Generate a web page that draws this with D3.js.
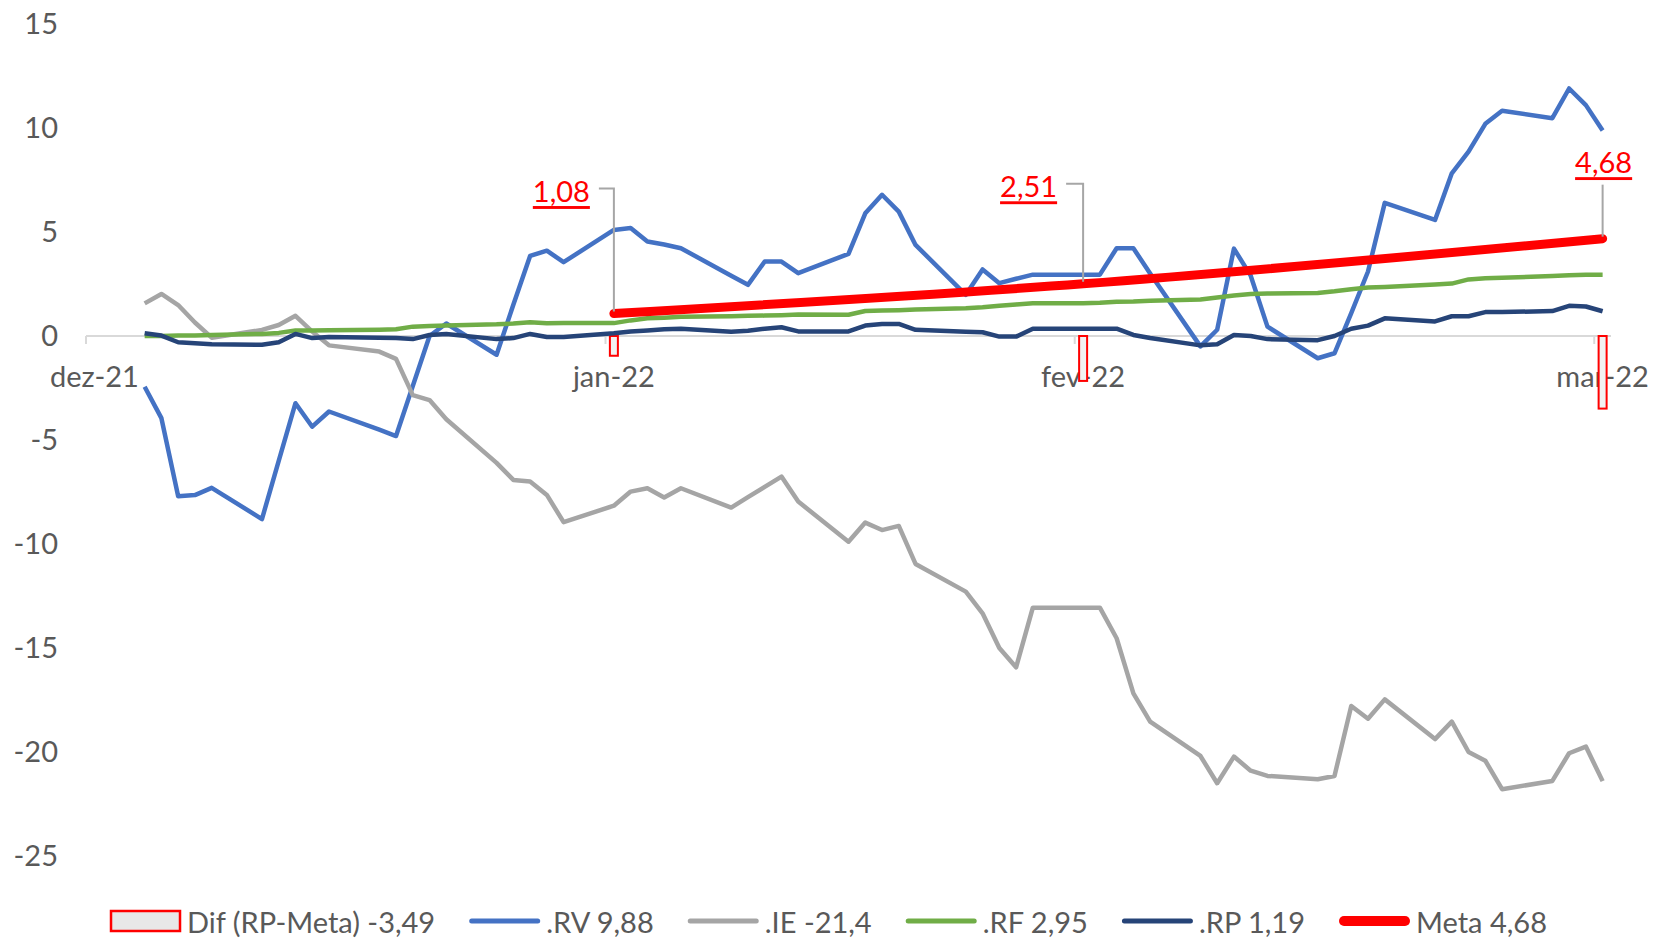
<!DOCTYPE html>
<html>
<head>
<meta charset="utf-8">
<script src="https://cdn.jsdelivr.net/npm/d3@7"></script>
<style>
  body { margin: 0; background: #fff; }
  svg text { font-family: Lato, "Open Sans", sans-serif; fill: #595959; }
</style>
</head>
<body>
<div id="chart"></div>
<script>
// business days, jan-mar 2022
const dates = [
  '2022-01-03','2022-01-04','2022-01-05','2022-01-06','2022-01-07',
  '2022-01-10','2022-01-11','2022-01-12','2022-01-13','2022-01-14',
  '2022-01-17','2022-01-18','2022-01-19','2022-01-20','2022-01-21',
  '2022-01-24','2022-01-25','2022-01-26','2022-01-27','2022-01-28',
  '2022-01-31',
  '2022-02-01','2022-02-02','2022-02-03','2022-02-04',
  '2022-02-07','2022-02-08','2022-02-09','2022-02-10','2022-02-11',
  '2022-02-14','2022-02-15','2022-02-16','2022-02-17','2022-02-18',
  '2022-02-21','2022-02-22','2022-02-23','2022-02-24','2022-02-25',
  '2022-02-28',
  '2022-03-01','2022-03-02','2022-03-03','2022-03-04',
  '2022-03-07','2022-03-08','2022-03-09','2022-03-10','2022-03-11',
  '2022-03-14','2022-03-15','2022-03-16','2022-03-17','2022-03-18',
  '2022-03-21','2022-03-22','2022-03-23','2022-03-24','2022-03-25',
  '2022-03-28','2022-03-29','2022-03-30','2022-03-31'
];

const rv = [
  -2.44, -3.95, -7.7, -7.65, -7.3, -8.8, -6.0, -3.23, -4.36, -3.63,
  -4.5, -4.81, -2.4, 0.0, 0.6, -0.9, 1.5, 3.85, 4.1, 3.55, 5.1,
  5.19, 4.54, 4.4, 4.22, 2.9, 2.46, 3.58, 3.58, 3.02,
  3.95, 5.9, 6.79, 5.98, 4.38, 1.98, 3.2, 2.54, 2.75, 2.95, 2.95,
  2.95, 4.22, 4.22, 3.0, -0.5, 0.3, 4.2, 2.9, 0.45,
  -1.07, -0.83, 1.1, 3.1, 6.4, 5.58, 7.82, 8.86, 10.2, 10.83,
  10.47, 11.9, 11.1, 9.88
];

const ie = [
  1.57, 2.02, 1.49, 0.65, -0.08, 0.29, 0.53, 0.97, 0.21, -0.45,
  -0.75, -1.1, -2.84, -3.08, -4.0, -6.1, -6.92, -7.0, -7.64, -8.95, -8.16,
  -7.48, -7.32, -7.76, -7.32, -8.25, -7.75, -7.25, -6.76, -7.96,
  -9.89, -8.97, -9.33, -9.13, -10.96, -12.29, -13.33, -15.0, -15.93, -13.06, -13.06,
  -13.06, -14.53, -17.18, -18.54, -20.19, -21.5, -20.22, -20.9, -21.15,
  -21.31, -21.15, -17.79, -18.4, -17.47, -19.38, -18.54, -20.0, -20.42, -21.79,
  -21.39, -20.06, -19.74, -21.4
];

const rf = [
  0.0, 0.0, 0.02, 0.03, 0.05, 0.1, 0.15, 0.26, 0.27, 0.28,
  0.3, 0.32, 0.45, 0.48, 0.5, 0.56, 0.6, 0.66, 0.61, 0.62, 0.62,
  0.75, 0.85, 0.88, 0.92, 0.95, 0.97, 0.98, 1.0, 1.03,
  1.02, 1.2, 1.22, 1.24, 1.27, 1.33, 1.38, 1.45, 1.52, 1.57, 1.58,
  1.6, 1.65, 1.66, 1.7, 1.76, 1.85, 1.95, 2.02, 2.04,
  2.07, 2.15, 2.25, 2.33, 2.36, 2.48, 2.52, 2.72, 2.78, 2.8,
  2.88, 2.92, 2.95, 2.95
];

const rp = [
  0.13, 0.02, -0.3, -0.35, -0.4, -0.42, -0.3, 0.1, -0.1, -0.05,
  -0.08, -0.1, -0.15, 0.05, 0.1, -0.15, -0.1, 0.1, -0.05, -0.05, 0.13,
  0.22, 0.27, 0.32, 0.35, 0.2, 0.25, 0.35, 0.42, 0.22,
  0.22, 0.5, 0.58, 0.58, 0.3, 0.2, 0.18, -0.03, -0.03, 0.35, 0.35,
  0.35, 0.35, 0.05, -0.1, -0.45, -0.4, 0.05, 0.0, -0.15,
  -0.2, 0.0, 0.35, 0.5, 0.85, 0.7, 0.95, 0.95, 1.15, 1.15,
  1.2, 1.45, 1.42, 1.19
];

// month-end points
const metaDates = ['2022-01-31', '2022-02-28', '2022-03-31'];
const meta = [1.08, 2.51, 4.68];
const dif = [-0.95, -2.16, -3.49];

const tickDates = ['2021-12-31', '2022-01-31', '2022-02-28', '2022-03-31'];
const tickLabels = ['dez-21', 'jan-22', 'fev-22', 'mar-22'];
const yTicks = [15, 10, 5, 0, -5, -10, -15, -20, -25];

const legendLabels = ['Dif (RP-Meta) -3,49', '.RV 9,88', '.IE -21,4', '.RF 2,95', '.RP 1,19', 'Meta 4,68'];

const width = 1657, height = 938;
const svg = d3.select('#chart').append('svg')
  .attr('width', width)
  .attr('height', height);

const parse = d3.timeParse('%Y-%m-%d');
const mid = s => d3.timeHour.offset(parse(s), 12);

const x = d3.scaleTime()
  .domain([parse('2021-12-31'), parse('2022-04-01')])
  .range([86, 1611]);
const y = d3.scaleLinear()
  .domain([-25, 15])
  .range([856, 24]);

const fontSize = 29;

// y labels
svg.selectAll('.ylab')
  .data(yTicks)
  .enter().append('text')
  .attr('class', 'ylab')
  .attr('x', 58)
  .attr('y', d => y(d) - 2)
  .attr('text-anchor', 'end')
  .attr('dominant-baseline', 'central')
  .style('font-size', fontSize + 'px')
  .text(d => String(d));

// x axis line + ticks
svg.append('line')
  .attr('x1', x.range()[0]).attr('x2', x.range()[1])
  .attr('y1', y(0)).attr('y2', y(0))
  .attr('stroke', '#d9d9d9')
  .attr('stroke-width', 2);

svg.selectAll('.xtick')
  .data(tickDates)
  .enter().append('line')
  .attr('x1', d => x(parse(d))).attr('x2', d => x(parse(d)))
  .attr('y1', y(0)).attr('y2', y(0) + 8)
  .attr('stroke', '#d9d9d9')
  .attr('stroke-width', 2);

svg.selectAll('.xlab')
  .data(tickDates)
  .enter().append('text')
  .attr('class', 'xlab')
  .attr('x', d => x(mid(d)))
  .attr('y', 375)
  .attr('text-anchor', 'middle')
  .attr('dominant-baseline', 'central')
  .style('font-size', fontSize + 'px')
  .text((d, i) => tickLabels[i]);

// Dif bars
const barW = 8;
svg.selectAll('.bar')
  .data(metaDates)
  .enter().append('rect')
  .attr('class', 'bar')
  .attr('x', d => x(mid(d)) - barW / 2)
  .attr('y', (d, i) => Math.min(y(0), y(dif[i])))
  .attr('width', barW)
  .attr('height', (d, i) => Math.abs(y(dif[i]) - y(0)))
  .attr('fill', '#f2f2f2')
  .attr('stroke', '#ff0000')
  .attr('stroke-width', 2);

// lines
const series = [
  { name: 'RV', values: rv, color: '#4472c4', w: 4.5 },
  { name: 'IE', values: ie, color: '#a5a5a5', w: 4.5 },
  { name: 'RF', values: rf, color: '#70ad47', w: 4.5 },
  { name: 'RP', values: rp, color: '#264478', w: 4.5 }
];

const line = d3.line()
  .x(d => x(mid(d.date)))
  .y(d => y(d.v));

series.forEach(s => {
  svg.append('path')
    .datum(dates.map((d, i) => ({ date: d, v: s.values[i] })))
    .attr('fill', 'none')
    .attr('stroke', s.color)
    .attr('stroke-width', s.w)
    .attr('stroke-linejoin', 'round')
    .attr('d', line);
});

const metaPts = metaDates.map((d, i) => ({ date: d, v: meta[i] }));
svg.append('path')
  .datum(metaPts)
  .attr('fill', 'none')
  .attr('stroke', '#ff0000')
  .attr('stroke-width', 9)
  .attr('stroke-linecap', 'round')
  .attr('d', line.curve(d3.curveMonotoneX));

// meta data labels with leader lines
const labelPos = [
  { dx: -24, dy: -123, anchor: 'end' },
  { dx: -26, dy: -98, anchor: 'end' },
  { dx: 1, dy: -77, anchor: 'middle' }
];
const fmt = v => v.toFixed(2).replace('.', ',');

metaPts.forEach((p, i) => {
  const px = x(mid(p.date)), py = y(p.v);
  const pos = labelPos[i];
  const tx = px + pos.dx, ty = py + pos.dy;
  svg.append('text')
    .attr('x', tx)
    .attr('y', ty)
    .attr('text-anchor', pos.anchor)
    .attr('dominant-baseline', 'central')
    .style('font-size', fontSize + 'px')
    .style('fill', '#ff0000')
    .style('text-decoration', 'underline')
    .text(fmt(p.v));
  let pts;
  if (pos.anchor === 'end') {
    pts = [[tx + 9, ty - 2], [px, ty - 2], [px, py - 2]];
  } else {
    pts = [[px, ty + 23], [px, py - 2]];
  }
  svg.append('path')
    .attr('d', d3.line()(pts))
    .attr('fill', 'none')
    .attr('stroke', '#a6a6a6')
    .attr('stroke-width', 2);
});

// legend
const legendItems = [
  { type: 'box' },
  { type: 'line', color: '#4472c4', w: 5 },
  { type: 'line', color: '#a5a5a5', w: 5 },
  { type: 'line', color: '#70ad47', w: 5 },
  { type: 'line', color: '#264478', w: 5 },
  { type: 'line', color: '#ff0000', w: 10 }
];
const legY = 921, swW = 71, gapText = 6, gapItem = 34;
const legend = svg.append('g');
let cx = 0;
legendItems.forEach((it, i) => {
  const g = legend.append('g').attr('transform', `translate(${cx},0)`);
  if (it.type === 'box') {
    g.append('rect')
      .attr('x', 1).attr('y', legY - 10)
      .attr('width', swW - 2).attr('height', 20)
      .attr('fill', '#e8e8e8')
      .attr('stroke', '#ff0000')
      .attr('stroke-width', 2.5);
  } else {
    g.append('line')
      .attr('x1', it.w / 2).attr('x2', swW - it.w / 2)
      .attr('y1', legY).attr('y2', legY)
      .attr('stroke', it.color)
      .attr('stroke-width', it.w)
      .attr('stroke-linecap', 'round');
  }
  const t = g.append('text')
    .attr('x', swW + gapText)
    .attr('y', legY)
    .attr('dominant-baseline', 'central')
    .style('font-size', fontSize + 'px')
    .text(legendLabels[i]);
  cx += swW + gapText + t.node().getComputedTextLength() + gapItem;
});
const legW = cx - gapItem;
legend.attr('transform', `translate(${(width - legW) / 2},0)`);
</script>
</body>
</html>
